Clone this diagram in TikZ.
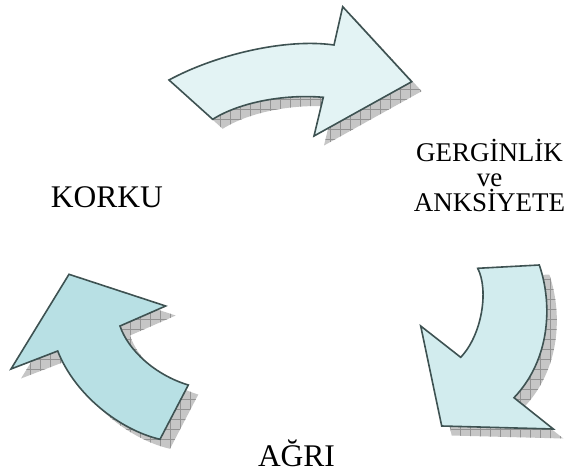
\documentclass[tikz,border=0pt]{standalone}
\usepackage{fontspec}
\setmainfont{Liberation Serif}
\begin{document}
\begin{tikzpicture}[x=1pt,y=-1pt,
  arrowline/.style={draw=arrowstroke,line width=1.6pt,line join=miter},
  lbl/.style={inner sep=0pt,anchor=base,align=center}]
\definecolor{arrowstroke}{HTML}{3E5252}
\definecolor{fillA}{HTML}{E3F3F4}
\definecolor{fillB}{HTML}{D2ECEE}
\definecolor{fillC}{HTML}{B8E0E4}
\useasboundingbox (0,0) rectangle (566,475);
\def\arrA{(169,80) .. controls (215,55) and (285,38) .. (334,45) -- (342.7,6.7) -- (411.7,81.7) -- (314,136) -- (323.3,97.3) .. controls (285,94) and (240,102) .. (212.7,119.3) -- cycle}
\def\arrB{(477.7,268.3) -- (539.3,265) .. controls (553,305) and (550,360) .. (514,397.7) -- (553.3,429) -- (441.7,426) -- (420.7,326) -- (460.7,357.3) .. controls (482,335) and (489,290) .. (477.7,268.3) -- cycle}
\def\arrC{(69,274.3) -- (165.7,306) -- (120,326) .. controls (128,350) and (155,375) .. (188.3,385) -- (160,439.3) .. controls (120,430) and (75,395) .. (57.7,351) -- (11,369) -- cycle}
% shadows
\foreach \p in {\arrA,\arrB,\arrC}{
  \begin{scope}[shift={(10,9.5)}]
    \begin{scope}
      \clip \p;
      \fill[gray!45] (-20,-20) rectangle (600,500);
      \draw[gray!85,line width=0.6pt] (0,0) grid[step=10pt] (580,490);
    \end{scope}
  \end{scope}
}
% arrows
\path[arrowline,fill=fillA] \arrA;
\path[arrowline,fill=fillB] \arrB;
\path[arrowline,fill=fillC] \arrC;
% labels
\node[lbl,font=\fontsize{31.5}{36}\selectfont] (korku) at (107,207) {KORKU};
\node[lbl,font=\fontsize{31.5}{36}\selectfont] (agri) at (296.5,466.5) {AĞRI};
\node[lbl,font=\fontsize{27}{25}\selectfont] (g1) at (489.5,161.7) {GERGİNLİK};
\node[lbl,font=\fontsize{27}{25}\selectfont] (g2) at (489.5,186.5) {ve};
\node[lbl,font=\fontsize{27}{25}\selectfont] (g3) at (489.5,211.7) {ANKSİYETE};
\end{tikzpicture}
\end{document}
